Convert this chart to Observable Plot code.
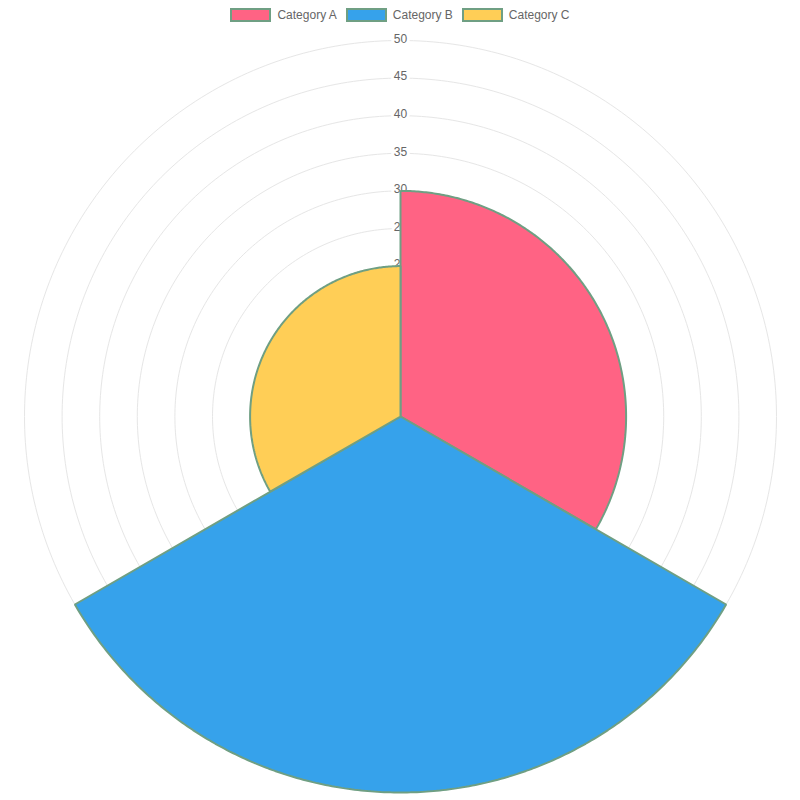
<!DOCTYPE html>
<html><head><meta charset="utf-8">
<script src="https://cdn.jsdelivr.net/npm/d3@7"></script>
<script src="https://cdn.jsdelivr.net/npm/@observablehq/plot@0.6"></script>
<style>
body{margin:0;background:#fff;font-family:"Liberation Sans",Helvetica,Arial,sans-serif;}
#legend{height:30px;display:flex;justify-content:center;padding-top:8px;box-sizing:border-box;font-size:12px;color:#666;}
.item{display:flex;align-items:center;margin:0 4.5px;height:14px;}
.box{width:41px;height:14px;box-sizing:border-box;border:2px solid #6f9f83;margin-right:6px;}
#chart svg{display:block;}
</style>
</head><body>
<div id="legend"></div>
<div id="chart"></div>
<script>
const categories = ["Category A", "Category B", "Category C"];
const values = [30, 50, 20];
const colors = ["#FF6384", "#36A2EB", "#FFCE56"];
const tickValues = [5, 10, 15, 20, 25, 30, 35, 40, 45, 50];
const borderColor = "#6f9f83";

// legend
const legend = document.getElementById("legend");
categories.forEach((c, i) => {
  const it = document.createElement("div"); it.className = "item";
  const b = document.createElement("div"); b.className = "box"; b.style.background = colors[i];
  const t = document.createElement("span"); t.textContent = c;
  it.appendChild(b); it.appendChild(t); legend.appendChild(it);
});

const W = 800, H = 770, cx = 400, cy = 386, k = 376 / 50;
const n = categories.length;
const sector = 360 / n;
const rad = d => d * Math.PI / 180;

// wedge outlines from values
const wedges = [];
categories.forEach((c, i) => {
  const a0 = i * sector, a1 = (i + 1) * sector, r = values[i];
  wedges.push({cat: c, x: 0, y: 0});
  for (let a = a0; a <= a1 + 1e-9; a += 0.5) {
    wedges.push({cat: c, x: r * Math.sin(rad(a)), y: r * Math.cos(rad(a))});
  }
  wedges.push({cat: c, x: 0, y: 0});
});

const rings = [];
tickValues.forEach(t => {
  for (let a = 0; a <= 360; a += 1) rings.push({t, x: t * Math.sin(rad(a)), y: t * Math.cos(rad(a))});
});

const labels = tickValues.map(t => ({t, x: 0, y: t}));

const plot = Plot.plot({
  width: W, height: H,
  margin: 0,
  x: {domain: [-cx / k, (W - cx) / k], axis: null},
  y: {domain: [-(H - cy) / k, cy / k], axis: null},
  color: {domain: categories, range: colors},
  style: {fontFamily: '"Liberation Sans", Helvetica, Arial, sans-serif', background: "#fff"},
  marks: [
    Plot.line(rings, {x: "x", y: "y", z: "t", stroke: "#e6e6e6", strokeWidth: 1, curve: "linear"}),
    Plot.text(labels, {x: "x", y: "y", dy: -1.5, text: d => String(d.t), fill: "#666", fontSize: 12, stroke: "#fff", strokeWidth: 6, paintOrder: "stroke"}),
    Plot.line(wedges, {x: "x", y: "y", z: "cat", fill: "cat", stroke: borderColor, strokeWidth: 2, strokeLinejoin: "miter", curve: "linear"})
  ]
});
document.getElementById("chart").appendChild(plot);
</script>
</body></html>
